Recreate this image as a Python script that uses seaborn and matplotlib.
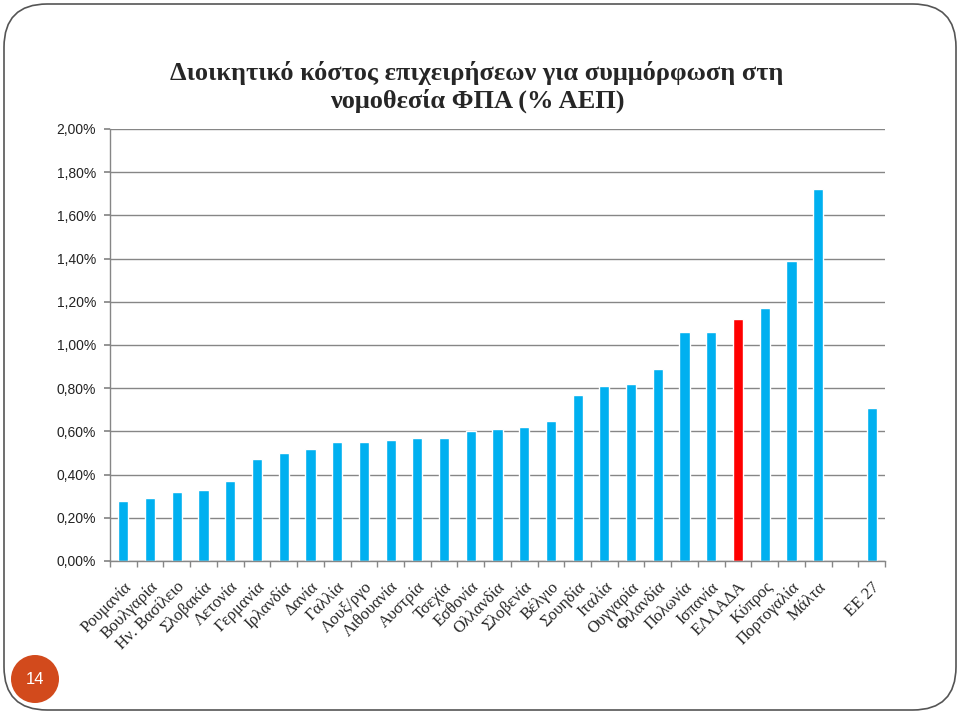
import matplotlib
matplotlib.use("Agg")
import matplotlib.pyplot as plt
import seaborn as sns
import pandas as pd
import numpy as np
from matplotlib.patches import FancyBboxPatch, Circle
from matplotlib.ticker import FuncFormatter, MultipleLocator

countries = ["Ρουμανία", "Βουλγαρία", "Ην. Βασίλειο", "Σλοβακία", "Λετονία", "Γερμανία",
             "Ιρλανδία", "Δανία", "Γαλλία", "Λουξ/ργο", "Λιθουανία", "Αυστρία", "Τσεχία",
             "Εσθονία", "Ολλανδία", "Σλοβενία", "Βέλγιο", "Σουηδία", "Ιταλία", "Ουγγαρία",
             "Φιλανδία", "Πολωνία", "Ισπανία", "ΕΛΛΑΔΑ", "Κύπρος", "Πορτογαλία", "Μάλτα",
             " ", "ΕΕ 27"]
values = [0.28, 0.29, 0.32, 0.33, 0.37, 0.47, 0.50, 0.52, 0.55, 0.55, 0.56, 0.57, 0.57,
          0.60, 0.61, 0.62, 0.65, 0.77, 0.81, 0.82, 0.89, 1.06, 1.06, 1.12, 1.17, 1.39, 1.72,
          np.nan, 0.71]
highlight = "ΕΛΛΑΔΑ"
title = "Διοικητικό κόστος επιχειρήσεων για συμμόρφωση στη\nνομοθεσία ΦΠΑ (% ΑΕΠ)"
page_number = "14"

df = pd.DataFrame({"country": countries, "value": values})
blue = "#00B0F0"
red = "#FF0000"
palette = {c: (red if c == highlight else blue) for c in countries}

sns.set_theme(style="white")
plt.rcParams["font.family"] = ["Liberation Sans", "DejaVu Sans"]

fig = plt.figure(figsize=(9.6, 7.14), dpi=100)
ax = fig.add_axes([110/960, 1-561/714, (885-110)/960, (561-129)/714])

sns.barplot(data=df, x="country", y="value", hue="country", palette=palette,
            order=countries, legend=False, width=0.38, saturation=1, ax=ax)

ax.set_ylim(0, 2.0)
ax.set_xlim(-0.5, len(countries) - 0.5)
ax.yaxis.set_major_locator(MultipleLocator(0.2))
ax.yaxis.set_major_formatter(FuncFormatter(lambda v, p: f"{v:.2f}%".replace(".", ",")))
ax.grid(axis="y", color="#868686", linewidth=1)
ax.set_axisbelow(True)
for s in ["top", "right"]:
    ax.spines[s].set_visible(False)
for s in ["left", "bottom"]:
    ax.spines[s].set_color("#868686")
    ax.spines[s].set_linewidth(1)
ax.set_xlabel("")
ax.set_ylabel("")

ax.tick_params(axis="y", which="major", left=True, length=4, color="#868686",
               labelsize=10, pad=6, labelcolor="#222222")
ax.set_xticks(range(len(countries)))
ax.set_xticklabels(countries, rotation=45, ha="right", rotation_mode="anchor",
                   family=["Liberation Serif", "DejaVu Serif"], fontsize=12)
ax.tick_params(axis="x", which="major", bottom=False, pad=7)
ax.set_xticks(np.arange(-0.5, len(countries), 1), minor=True)
ax.tick_params(axis="x", which="minor", bottom=True, length=4, color="#868686")

fig.text(0.497, 1-87/714, title, ha="center", va="center", fontsize=19,
         fontweight="bold", family=["Liberation Serif", "DejaVu Serif"],
         linespacing=1.2)

frame = FancyBboxPatch((4/960, 4/714), 952/960, 706/714,
                       boxstyle="round,pad=0,rounding_size=0.045",
                       transform=fig.transFigure, fill=False,
                       edgecolor="#555555", linewidth=1.2, mutation_aspect=960/714)
fig.patches.append(frame)

circ = Circle((35, 714-679), 24, transform=None, facecolor="#D24A1C", edgecolor="none")
fig.patches.append(circ)
fig.text(35/960, 1-679/714, page_number, ha="center", va="center", color="white",
         fontsize=12)

fig.savefig("out.png", dpi=100)
